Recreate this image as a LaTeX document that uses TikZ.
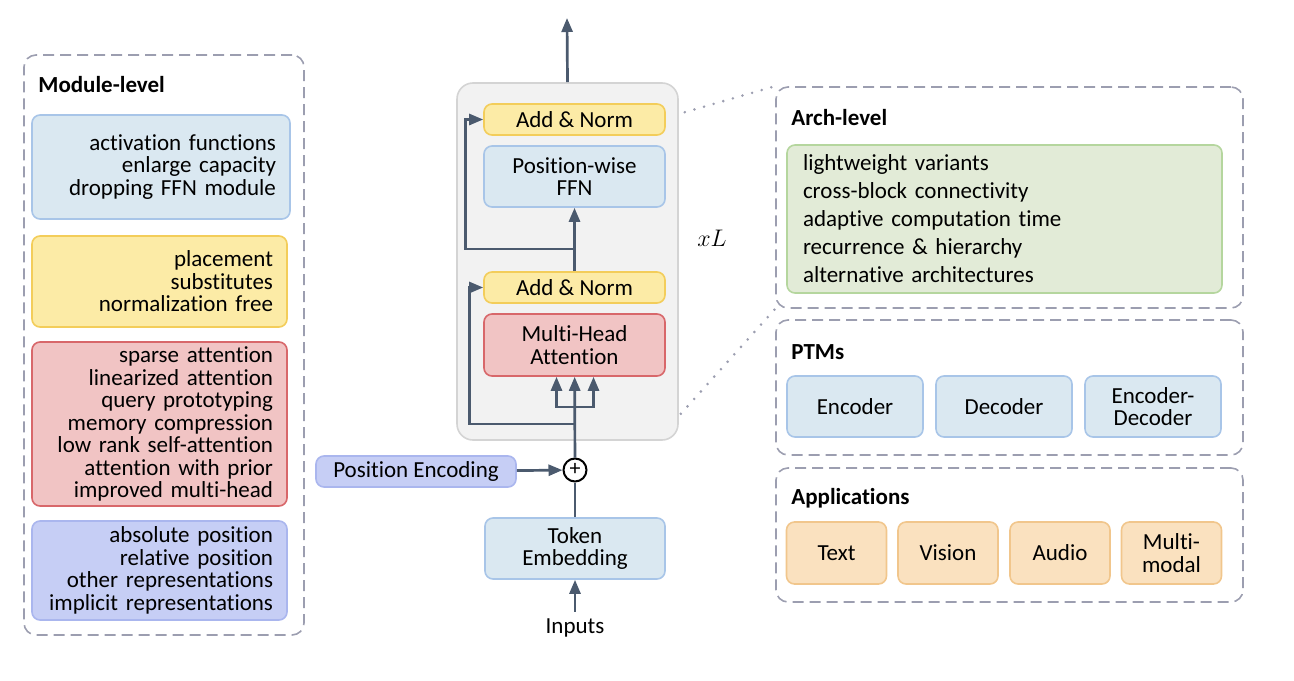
\documentclass[tikz,border=0pt]{standalone}
\usepackage{fontspec}
\setmainfont{Carlito}[RawFeature={-liga;-clig}]
\usepackage{tikz}
\usetikzlibrary{arrows.meta,shapes}

\definecolor{lincol}{HTML}{4B5A6E}
\definecolor{dashcol}{HTML}{9C9EB0}
\definecolor{blkfill}{HTML}{F2F2F2}
\definecolor{blkdraw}{HTML}{D4D4D4}
\definecolor{yelfill}{HTML}{FCEBA6}
\definecolor{yeldraw}{HTML}{F3CD5A}
\definecolor{bluefill}{HTML}{DAE8F1}
\definecolor{bluedraw}{HTML}{A8C5E8}
\definecolor{redfill}{HTML}{F1C4C4}
\definecolor{reddraw}{HTML}{D8676A}
\definecolor{lavfill}{HTML}{C6CEF5}
\definecolor{lavdraw}{HTML}{AAB6EE}
\definecolor{grnfill}{HTML}{E2EBD7}
\definecolor{grndraw}{HTML}{B5D69E}
\definecolor{orgfill}{HTML}{FAE1BF}
\definecolor{orgdraw}{HTML}{F1C68C}

\newcommand{\listfont}{\fontsize{11.5}{11.25}\selectfont}
\newcommand{\archfont}{\fontsize{11.5}{14}\selectfont}

\begin{document}
\begin{tikzpicture}[x=0.5pt,y=-0.5pt,
  panel/.style={draw=dashcol,line width=0.8pt,dash pattern=on 5.5pt off 3pt,rounded corners=6pt},
  box/.style={rounded corners=4pt,line width=0.8pt,align=center,font=\listfont,inner sep=0pt},
  yel/.style={box,fill=yelfill,draw=yeldraw},
  blu/.style={box,fill=bluefill,draw=bluedraw},
  rd/.style={box,fill=redfill,draw=reddraw},
  lav/.style={box,fill=lavfill,draw=lavdraw},
  grn/.style={box,fill=grnfill,draw=grndraw},
  org/.style={box,fill=orgfill,draw=orgdraw},
  lst/.style={align=right,inner xsep=7pt},
  ttl/.style={font=\listfont\bfseries,anchor=west,inner sep=0pt},
  line/.style={draw=lincol,line width=1.35pt},
  arr/.style={line,-{Triangle[length=7pt,width=5.5pt]}},
  dotline/.style={draw=dashcol,line width=1.4pt,dash pattern=on 0pt off 5pt,line cap=round}]
  \useasboundingbox (0,0) rectangle (1294,680);

  \node[panel,minimum width=140pt,minimum height=290pt] (mod) at (164,345) {};
  \node[ttl] (modt) at (38,85) {Module-level};
  \node[blu,lst,text width=115pt,minimum height=52pt] (l1) at (161,167) {activation functions\\enlarge capacity\\dropping FFN module};
  \node[yel,lst,text width=113.5pt,minimum height=45.5pt] (l2) at (159.5,281.5) {placement\\substitutes\\normalization free};
  \node[rd,lst,text width=113.5pt,minimum height=82pt] (l3) at (159.5,424) {sparse attention\\linearized attention\\query prototyping\\memory compression\\low rank self-attention\\attention with prior\\improved multi-head};
  \node[lav,lst,text width=113.5pt,minimum height=49.5pt] (l4) at (159.5,570.5) {absolute position\\relative position\\other representations\\implicit representations};

  \node[draw=blkdraw,fill=blkfill,line width=0.8pt,rounded corners=8pt,minimum width=110.5pt,minimum height=178.5pt] (block) at (567.5,261.5) {};
  \node[yel,minimum width=90.5pt,minimum height=15.5pt] (an2) at (574.5,119.5) {Add \& Norm};
  \node[blu,minimum width=90.5pt,minimum height=30.5pt] (ffn) at (574.5,176.5) {Position-wise\\FFN};
  \node[yel,minimum width=90.5pt,minimum height=15.5pt] (an1) at (574.5,287.5) {Add \& Norm};
  \node[rd,minimum width=90.5pt,minimum height=31pt] (mha) at (574.5,345) {Multi-Head\\Attention};
  \node[draw=black,fill=white,line width=1pt,circle,minimum size=11.5pt,inner sep=0pt,font=\fontsize{11}{11}\selectfont] (plus) at (575,470) {\raisebox{0.6pt}{+}};
  \node[lav,minimum width=100pt,minimum height=15.5pt] (pe) at (416,471.5) {Position Encoding};
  \node[blu,minimum width=90pt,minimum height=30.5pt] (emb) at (575,548.5) {Token\\Embedding};
  \node[font=\listfont] (inp) at (575,628) {Inputs};
  \node[font=\fontsize{12}{14}\selectfont] (xl) at (712,238) {$xL$};
  \coordinate (out) at (567,18);
  \coordinate (fork) at (575,407);
  \coordinate (res1) at (575,424);
  \coordinate (res2) at (574.5,249);

  \draw[arr] (block.north) -- (out);
  \draw[arr] (inp) -- (emb);
  \draw[line] (emb) -- (plus);
  \draw[arr] (pe) -- (plus);
  \draw[arr] (plus) -- (mha);
  \draw[arr] (fork) -| ([xshift=-9pt]mha.south);
  \draw[arr] (fork) -| ([xshift=9.5pt]mha.south);
  \draw[arr] (res1) -| ([xshift=-7pt]an1.west) -- (an1.west);
  \draw[arr] (an1) -- (ffn);
  \draw[arr] (res2) -| ([xshift=-9pt]an2.west) -- (an2.west);

  \node[panel,minimum width=233.5pt,minimum height=110.5pt] (arch) at (1009.5,197.5) {};
  \node[ttl] (archt) at (791,118) {Arch-level};
  \node[grn,align=left,font=\archfont,text width=201.5pt,inner xsep=8pt,minimum height=74pt] (g1) at (1004.5,219) {lightweight variants\\cross-block connectivity\\adaptive computation time\\recurrence \& hierarchy\\alternative architectures};

  \node[panel,minimum width=233.5pt,minimum height=67.5pt] (ptm) at (1009.5,387.5) {};
  \node[ttl] (ptmt) at (791,352) {PTMs};
  \node[blu,minimum width=68pt,minimum height=30.5pt] (p1) at (855,406.5) {Encoder};
  \node[blu,minimum width=68pt,minimum height=30.5pt] (p2) at (1004,406.5) {Decoder};
  \node[blu,minimum width=68pt,minimum height=30.5pt] (p3) at (1153,406.5) {Encoder-\\Decoder};

  \node[panel,minimum width=233.5pt,minimum height=67pt] (app) at (1009.5,535) {};
  \node[ttl] (appt) at (791,498) {Applications};
  \node[org,minimum width=50pt,minimum height=31pt] (a1) at (836.5,553) {Text};
  \node[org,minimum width=50pt,minimum height=31pt] (a2) at (948,553) {Vision};
  \node[org,minimum width=50pt,minimum height=31pt] (a3) at (1060,553) {Audio};
  \node[org,minimum width=50pt,minimum height=31pt] (a4) at (1171.5,553) {Multi-\\modal};

  \draw[dotline] ([xshift=3pt,yshift=-15pt]block.north east) -- (arch.north west);
  \draw[dotline] ([xshift=1pt,yshift=13.5pt]block.south east) -- (arch.south west);
\end{tikzpicture}
\end{document}
